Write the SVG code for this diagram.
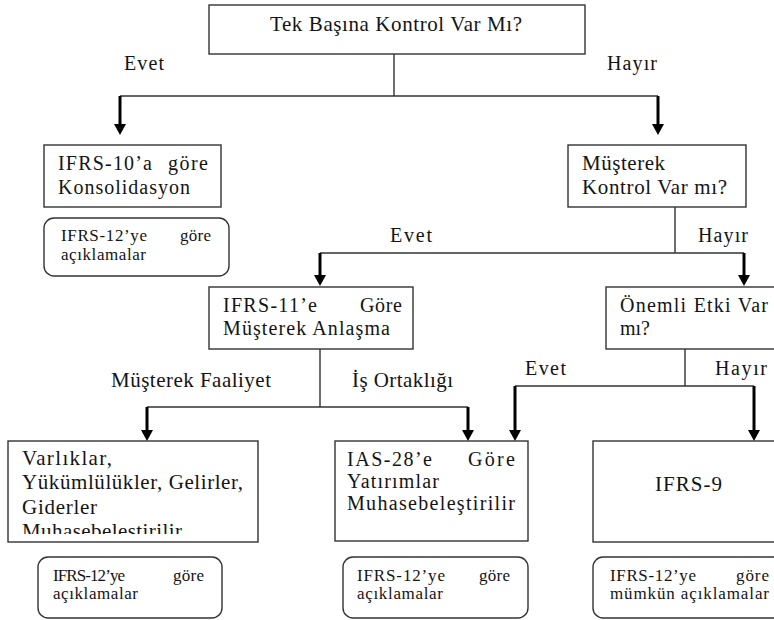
<svg xmlns="http://www.w3.org/2000/svg" width="774" height="620" viewBox="0 0 774 620">
<style>
.box{fill:#fff;stroke:#333;stroke-width:1.4}
.t{font-family:"Liberation Serif","Times New Roman",serif;fill:#141414}
.f21{font-size:21px}.f20{font-size:20px}.f17{font-size:17px}
.ln{fill:none;stroke:#333;stroke-width:1.4}
.ar{fill:none;stroke:#000;stroke-width:3}
</style>
<defs>
<marker id="ah" markerUnits="userSpaceOnUse" markerWidth="11" markerHeight="12" refX="0" refY="6" orient="auto" viewBox="0 0 11 12">
<path d="M0,0 L11,6 L0,12 z" fill="#000"/>
</marker>
<clipPath id="clipV"><rect x="8" y="441" width="250" height="93"/></clipPath>
</defs>
<rect width="774" height="620" fill="#fff"/>

<g id="connectors">
<path class="ln" d="M394,54 V96 M120,96 H658"/>
<path class="ar" d="M120,96 V124" marker-end="url(#ah)"/>
<path class="ar" d="M658,96 V124" marker-end="url(#ah)"/>
<path class="ln" d="M675,207 V253 M320,253 H744"/>
<path class="ar" d="M320,253 V275" marker-end="url(#ah)"/>
<path class="ar" d="M744,253 V275" marker-end="url(#ah)"/>
<path class="ln" d="M320,349 V407 M147,407 H468"/>
<path class="ar" d="M147,407 V430" marker-end="url(#ah)"/>
<path class="ar" d="M468,407 V430" marker-end="url(#ah)"/>
<path class="ln" d="M685,349 V386 M515,386 H754"/>
<path class="ar" d="M515,386 V430" marker-end="url(#ah)"/>
<path class="ar" d="M754,386 V430" marker-end="url(#ah)"/>
<text class="t f20" x="124" y="70" textLength="40" lengthAdjust="spacing">Evet</text>
<text class="t f20" x="607" y="70" textLength="50" lengthAdjust="spacing">Hayır</text>
<text class="t f20" x="390" y="242" textLength="42" lengthAdjust="spacing">Evet</text>
<text class="t f20" x="698" y="242" textLength="50" lengthAdjust="spacing">Hayır</text>
<text class="t f21" x="111" y="387" textLength="160" lengthAdjust="spacing">Müşterek Faaliyet</text>
<text class="t f21" x="352" y="387" textLength="101" lengthAdjust="spacing">İş Ortaklığı</text>
<text class="t f20" x="525" y="375" textLength="41" lengthAdjust="spacing">Evet</text>
<text class="t f20" x="715" y="375" textLength="52" lengthAdjust="spacing">Hayır</text>
</g>

<g id="n-tek">
<rect class="box" x="209" y="5" width="376" height="49"/>
<text class="t f21" x="270" y="31" textLength="252" lengthAdjust="spacing">Tek Başına Kontrol Var Mı?</text>
</g>

<g id="n-ifrs10">
<rect class="box" x="44" y="145" width="177" height="62"/>
<text class="t f20" x="58" y="170" textLength="94" lengthAdjust="spacing">IFRS-10’a</text>
<text class="t f20" x="168" y="170" textLength="40" lengthAdjust="spacing">göre</text>
<text class="t f20" x="58" y="194" textLength="132" lengthAdjust="spacing">Konsolidasyon</text>
</g>

<g id="n-acik1">
<rect class="box" x="44" y="218" width="185" height="58" rx="10"/>
<text class="t f17" x="61" y="241" textLength="86" lengthAdjust="spacing">IFRS-12’ye</text>
<text class="t f17" x="180" y="241" textLength="31" lengthAdjust="spacing">göre</text>
<text class="t f17" x="61" y="260" textLength="85" lengthAdjust="spacing">açıklamalar</text>
</g>

<g id="n-musterek">
<rect class="box" x="568" y="145" width="178" height="62"/>
<text class="t f21" x="582" y="170" textLength="83" lengthAdjust="spacing">Müşterek</text>
<text class="t f21" x="582" y="194" textLength="145" lengthAdjust="spacing">Kontrol Var mı?</text>
</g>

<g id="n-ifrs11">
<rect class="box" x="209" y="287" width="204" height="62"/>
<text class="t f20" x="223" y="312" textLength="94" lengthAdjust="spacing">IFRS-11’e</text>
<text class="t f20" x="360" y="312" textLength="42" lengthAdjust="spacing">Göre</text>
<text class="t f20" x="223" y="335" textLength="167" lengthAdjust="spacing">Müşterek Anlaşma</text>
</g>

<g id="n-onemli">
<rect class="box" x="606" y="287" width="180" height="62"/>
<text class="t f20" x="620" y="312" textLength="148" lengthAdjust="spacing">Önemli Etki Var</text>
<text class="t f20" x="620" y="335">mı?</text>
</g>

<g id="n-varliklar">
<rect class="box" x="8" y="441" width="250" height="101"/>
<g clip-path="url(#clipV)">
<text class="t f21" x="22" y="465" textLength="90" lengthAdjust="spacing">Varlıklar,</text>
<text class="t f21" x="22" y="489" textLength="221" lengthAdjust="spacing">Yükümlülükler, Gelirler,</text>
<text class="t f21" x="22" y="514" textLength="75" lengthAdjust="spacing">Giderler</text>
<text class="t f21" x="22" y="538" textLength="160" lengthAdjust="spacing">Muhasebelestirilir</text>
</g>
</g>

<g id="n-ias28">
<rect class="box" x="335" y="441" width="193" height="100"/>
<text class="t f20" x="347" y="466" textLength="85" lengthAdjust="spacing">IAS-28’e</text>
<text class="t f20" x="468" y="466" textLength="47" lengthAdjust="spacing">Göre</text>
<text class="t f20" x="347" y="488" textLength="92" lengthAdjust="spacing">Yatırımlar</text>
<text class="t f20" x="347" y="510" textLength="168" lengthAdjust="spacing">Muhasebeleştirilir</text>
</g>

<g id="n-ifrs9">
<rect class="box" x="593" y="441" width="190" height="101"/>
<text class="t f21" x="655" y="491" textLength="67" lengthAdjust="spacing">IFRS-9</text>
</g>

<g id="n-acik2">
<rect class="box" x="38" y="557" width="184" height="61" rx="10"/>
<text class="t f17" x="53" y="581" textLength="72" lengthAdjust="spacing">IFRS-12’ye</text>
<text class="t f17" x="173" y="581" textLength="31" lengthAdjust="spacing">göre</text>
<text class="t f17" x="53" y="599" textLength="85" lengthAdjust="spacing">açıklamalar</text>
</g>

<g id="n-acik3">
<rect class="box" x="343" y="557" width="185" height="61" rx="10"/>
<text class="t f17" x="357" y="581" textLength="88" lengthAdjust="spacing">IFRS-12’ye</text>
<text class="t f17" x="479" y="581" textLength="31" lengthAdjust="spacing">göre</text>
<text class="t f17" x="357" y="599" textLength="86" lengthAdjust="spacing">açıklamalar</text>
</g>

<g id="n-acik4">
<rect class="box" x="593" y="557" width="195" height="61" rx="10"/>
<text class="t f17" x="610" y="581" textLength="86" lengthAdjust="spacing">IFRS-12’ye</text>
<text class="t f17" x="736" y="581" textLength="33" lengthAdjust="spacing">göre</text>
<text class="t f17" x="610" y="599" textLength="159" lengthAdjust="spacing">mümkün açıklamalar</text>
</g>
</svg>
